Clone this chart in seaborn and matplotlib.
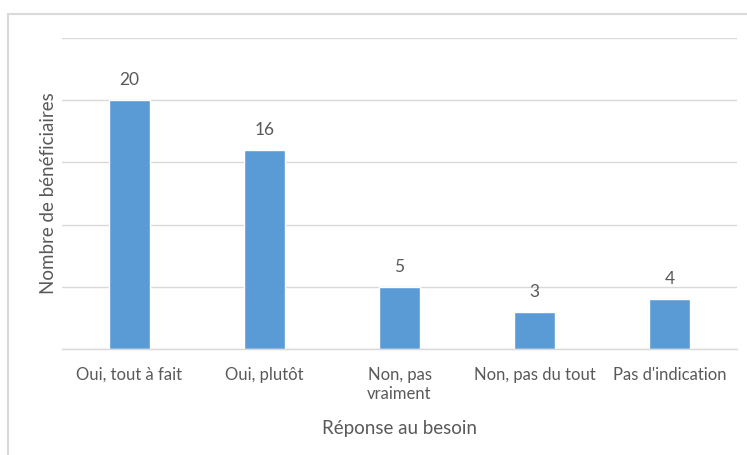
import matplotlib
matplotlib.use("Agg")
import matplotlib.pyplot as plt
import seaborn as sns
import pandas as pd
from matplotlib.patches import Rectangle
from matplotlib.ticker import FixedLocator

categories = ["Oui, tout à fait", "Oui, plutôt", "Non, pas\nvraiment", "Non, pas du tout", "Pas d'indication"]
values = [20, 16, 5, 3, 4]
y_gridlines = [0, 5, 10, 15, 20, 25]

sns.set_theme(style="white")
plt.rcParams['font.family'] = ['Lato', 'DejaVu Sans']

text_color = "#595959"
grid_color = "#D9D9D9"
bar_color = "#5B9BD5"

W, H = 747, 455
fig = plt.figure(figsize=(W / 100, H / 100), dpi=100)
ax = fig.add_axes([62 / W, 1 - 349 / H, (737 - 62) / W, (349 - 38) / H])

df = pd.DataFrame({"cat": categories, "val": values})
sns.barplot(data=df, x="cat", y="val", color=bar_color, saturation=1, width=0.31, ax=ax, zorder=3)

ax.set_ylim(0, 25)
ax.set_xlim(-0.5, len(categories) - 0.5)
ax.set_yticks(y_gridlines)
ax.set_yticklabels([])
ax.tick_params(axis="y", length=0)
ax.yaxis.grid(True, color=grid_color, linewidth=1, zorder=0)
ax.xaxis.grid(False)
for s in ["top", "right", "left"]:
    ax.spines[s].set_visible(False)
ax.spines["bottom"].set_color(grid_color)
ax.spines["bottom"].set_linewidth(1)
ax.spines["bottom"].set_zorder(4)

ax.tick_params(axis="x", which="major", length=0, pad=13, labelsize=12, labelcolor=text_color)
ax.xaxis.set_minor_locator(FixedLocator([i - 0.5 for i in range(len(categories) + 1)]))
ax.tick_params(axis="x", which="minor", length=6, color=grid_color, width=1)

for i, v in enumerate(values):
    ax.annotate(str(v), (i, v), xytext=(0, 8.5), textcoords="offset points",
                ha="center", va="bottom", fontsize=12.5, color=text_color)

ax.set_xlabel("Réponse au besoin", fontsize=13.5, color=text_color, labelpad=13)
ax.set_ylabel("Nombre de bénéficiaires", fontsize=13.5, color=text_color, labelpad=0)

frame = Rectangle((8 / W, -0.1), 1.2, 1.1 - 14 / H, transform=fig.transFigure,
                  fill=False, edgecolor=grid_color, linewidth=1.5, zorder=0)
fig.patches.append(frame)

fig.savefig("out.png", dpi=100)
